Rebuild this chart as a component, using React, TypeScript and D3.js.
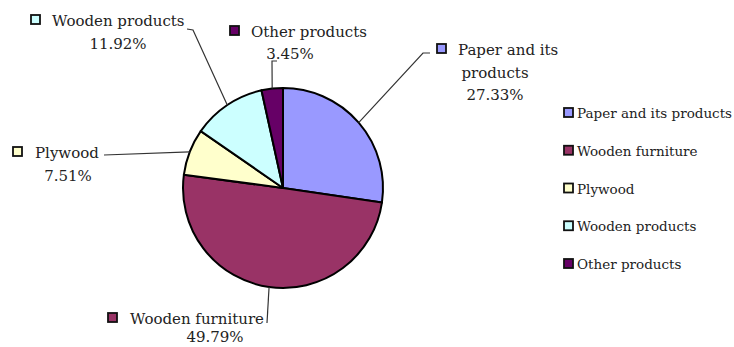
import React from "react";
import * as d3 from "d3";

const categories = ["Paper and its products", "Wooden furniture", "Plywood", "Wooden products", "Other products"];
const values = [27.33, 49.79, 7.51, 11.92, 3.45];
const colors = ["#9999FF", "#993366", "#FFFFCC", "#CCFFFF", "#660066"];
const labelLines = [
  ["Paper and its", "products", "27.33%"],
  ["Wooden furniture", "49.79%"],
  ["Plywood", "7.51%"],
  ["Wooden products", "11.92%"],
  ["Other products", "3.45%"],
];

const W = 734, H = 347;
const cx = 283, cy = 188, R = 100;
const FONT = "'DejaVu Serif', serif";

// label layout: marker x, text x, first baseline, centre x for following lines, line step, elbow points
const labelLayout = [
  { mx: 437, tx: 458, ty: 55, ccx: 495, step: 22.5, line: [[430, 53], [423, 53]] },
  { mx: 108, tx: 130, ty: 324, ccx: 215, step: 18, line: [[267, 323]] },
  { mx: 13, tx: 35, ty: 158, ccx: 68, step: 23, line: [[104, 155]] },
  { mx: 31, tx: 52, ty: 26, ccx: 118, step: 23, line: [[187, 29], [193, 30]] },
  { mx: 230, tx: 251, ty: 37, ccx: 290, step: 22, line: [[277, 61], [272, 61]] },
];

export default function App() {
  const pie = d3.pie<number>().sort(null).startAngle(0).endAngle(2 * Math.PI)(values);
  const arc = d3.arc<d3.PieArcDatum<number>>().innerRadius(0).outerRadius(R);
  const legendY = d3.scalePoint<string>().domain(categories).range([113, 264]);

  return (
    <svg width={W} height={H} style={{ position: "absolute", left: 0, top: 0, background: "#fff" }}>
      <g transform={`translate(${cx},${cy})`}>
        {pie.map((p, i) => (
          <path key={i} d={arc(p) || ""} fill={colors[i]} stroke="#000" strokeWidth={2} strokeLinejoin="round" />
        ))}
      </g>
      {pie.map((p, i) => {
        const mid = (p.startAngle + p.endAngle) / 2;
        const ex = cx + R * Math.sin(mid);
        const ey = cy - R * Math.cos(mid);
        const L = labelLayout[i];
        const pts = [...L.line, [ex, ey]];
        const lines = labelLines[i];
        return (
          <g key={i}>
            <polyline points={pts.map((q) => q.join(",")).join(" ")} fill="none" stroke="#333" strokeWidth={1.2} />
            <rect x={L.mx} y={L.ty - 11} width={9} height={9} fill={colors[i]} stroke="#111" strokeWidth={1.8} />
            <text x={L.tx} y={L.ty} fontFamily={FONT} fontSize={15} fill="#222">{lines[0]}</text>
            {lines.slice(1).map((s, j) => (
              <text key={j} x={L.ccx} y={L.ty + L.step * (j + 1)} textAnchor="middle" fontFamily={FONT} fontSize={15} fill="#222">{s}</text>
            ))}
          </g>
        );
      })}
      {categories.map((c, i) => {
        const y = legendY(c) as number;
        return (
          <g key={c}>
            <rect x={564} y={y - 5} width={9} height={9} fill={colors[i]} stroke="#111" strokeWidth={1.8} />
            <text x={577} y={y + 5} fontFamily={FONT} fontSize={13.5} fill="#222">{c}</text>
          </g>
        );
      })}
    </svg>
  );
}
